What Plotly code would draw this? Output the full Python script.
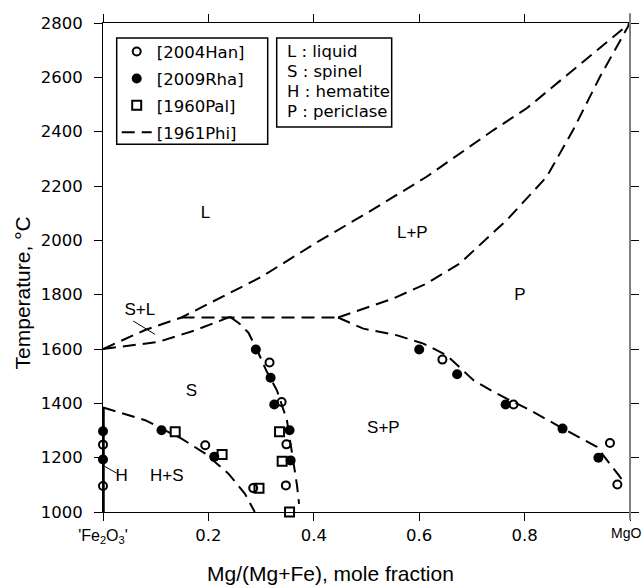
import plotly.graph_objects as go

# ---------------- data ----------------
# 1961Phi phase boundaries (dashed)
liqP_x = [0, 0.08, 0.149, 0.225, 0.301, 0.402, 0.51, 0.614, 0.677, 0.741, 0.804, 0.892, 1.0]
liqP_T = [1600, 1670, 1716, 1792, 1866, 1988, 2111, 2234, 2320, 2406, 2486, 2627, 2800]

solP_x = [0.446, 0.488, 0.551, 0.614, 0.677, 0.766, 0.842, 0.892, 0.943, 1.0]
solP_T = [1716, 1743, 1786, 1841, 1915, 2074, 2234, 2406, 2602, 2800]

eut_x = [0.149, 0.446]
eut_T = [1716, 1716]

liqS_x = [0, 0.105, 0.175, 0.241]
liqS_T = [1600, 1626, 1669, 1718]

solvS_x = [0.241, 0.258, 0.276, 0.292, 0.31, 0.330, 0.349, 0.361, 0.368, 0.372]
solvS_T = [1718, 1695, 1660, 1598, 1520, 1448, 1338, 1190, 1100, 1030]

SP_x = [0.446, 0.494, 0.557, 0.608, 0.652, 0.703, 0.747, 0.810, 0.873, 0.937, 0.981, 0.99]
SP_T = [1716, 1675, 1651, 1620, 1577, 1485, 1436, 1375, 1307, 1240, 1129, 1105]

hem_x = [0, 0.080, 0.149, 0.194, 0.238, 0.269, 0.288]
hem_T = [1385, 1338, 1270, 1215, 1141, 1068, 1000]

# hematite single-phase line (solid)
hemline_x = [0, 0]
hemline_T = [1000, 1385]

# label pointers (solid thin)
ptrSL_x = [0.0575, 0.0987]
ptrSL_T = [1703, 1654]
ptrH_x = [0.003, 0.026]
ptrH_T = [1168, 1143]

# experimental points
han_x = [0, 0, 0.194, 0.316, 0.339, 0.348, 0.347, 0.285, 0.644, 0.779, 0.962, 0.976]
han_T = [1248, 1096, 1246, 1550, 1405, 1249, 1098, 1088, 1561, 1396, 1254, 1101]

rha_x = [0, 0, 0.111, 0.211, 0.290, 0.318, 0.325, 0.354, 0.356, 0.600, 0.672, 0.764, 0.872, 0.940]
rha_T = [1297, 1193, 1301, 1203, 1598, 1494, 1396, 1301, 1190, 1598, 1507, 1396, 1307, 1200]

pal_x = [0.137, 0.226, 0.296, 0.335, 0.340, 0.354]
pal_T = [1295, 1212, 1087, 1295, 1187, 1000]

# region labels
lab_text = ["L", "L+P", "P", "S+L", "S", "S+P", "H+S", "H"]
lab_x = [0.1945, 0.587, 0.791, 0.070, 0.168, 0.532, 0.121, 0.0354]
lab_T = [2098, 2026, 1797, 1739, 1442, 1307, 1129, 1131]

x_ticks = [0, 0.2, 0.4, 0.6, 0.8, 1.0]
x_ticktext = ["<span style='font-family:Liberation Sans;font-size:16px'>'Fe<sub>2</sub>O<sub>3</sub>'</span>",
              "0.2", "0.4", "0.6", "0.8", ""]
end_label = "MgO"
y_ticks = [1000, 1200, 1400, 1600, 1800, 2000, 2200, 2400, 2600, 2800]

legend_lines = ["L : liquid", "S : spinel", "H : hematite", "P : periclase"]

# ---------------- figure ----------------
fig = go.Figure()
DASH = "13px,7px"
dash_line = dict(color="black", width=2, dash=DASH)

boundaries = [(liqP_x, liqP_T), (solP_x, solP_T), (eut_x, eut_T), (liqS_x, liqS_T),
              (solvS_x, solvS_T), (SP_x, SP_T), (hem_x, hem_T)]
for i, (bx, bt) in enumerate(boundaries):
    fig.add_trace(go.Scatter(x=bx, y=bt, mode="lines", line=dash_line,
                             name="[1961Phi]", showlegend=(i == 0), legendrank=4,
                             legendgroup="phi", hoverinfo="skip"))

fig.add_trace(go.Scatter(x=hemline_x, y=hemline_T, mode="lines",
                         line=dict(color="black", width=3.5), showlegend=False))
for px_, pt_ in [(ptrSL_x, ptrSL_T), (ptrH_x, ptrH_T)]:
    fig.add_trace(go.Scatter(x=px_, y=pt_, mode="lines",
                             line=dict(color="black", width=1), showlegend=False))

fig.add_trace(go.Scatter(x=han_x, y=han_T, mode="markers", name="[2004Han]",
                         legendrank=1, legendgroup="han", cliponaxis=False,
                         marker=dict(symbol="circle-open", size=8, color="black",
                                     line=dict(width=2, color="black"))))
fig.add_trace(go.Scatter(x=rha_x, y=rha_T, mode="markers", name="[2009Rha]",
                         legendrank=2, legendgroup="rha", cliponaxis=False,
                         marker=dict(symbol="circle", size=10, color="black")))
fig.add_trace(go.Scatter(x=pal_x, y=pal_T, mode="markers", name="[1960Pal]",
                         legendrank=3, legendgroup="pal", cliponaxis=False,
                         marker=dict(symbol="square-open", size=9, color="black",
                                     line=dict(width=2, color="black"))))

fig.add_trace(go.Scatter(x=lab_x, y=lab_T, mode="text", text=lab_text,
                         textfont=dict(family="Liberation Sans", size=17, color="black"),
                         showlegend=False, hoverinfo="skip"))

axis_common = dict(showline=True, linecolor="black", linewidth=1, mirror="ticks",
                   ticks="outside", ticklen=8, tickwidth=1, tickcolor="black",
                   showgrid=False, zeroline=False, automargin=False,
                   ticklabeloverflow="allow",
                   tickfont=dict(family="DejaVu Sans", size=16.5, color="black"))

fig.update_xaxes(range=[0, 1], tickvals=x_ticks, ticktext=x_ticktext, **axis_common)
fig.update_yaxes(range=[1000, 2800], tickvals=y_ticks, ticklabelstandoff=8, **axis_common)

fig.add_shape(type="line", xref="paper", yref="paper", x0=1, x1=1, y0=-0.016, y1=1.02,
              line=dict(color="#808080", width=2))

# end-member label at x = 1 (kept inside the page)
fig.add_annotation(xref="paper", yref="paper", x=1.0247, y=-0.0436, xanchor="right",
                   yanchor="middle", text=end_label, showarrow=False,
                   font=dict(family="Liberation Sans", size=14, color="black"))

# frame of the symbol legend
fig.add_shape(type="rect", xref="paper", yref="paper", x0=0.026, x1=0.3125,
              y0=0.752, y1=0.9693, line=dict(color="black", width=1.5), fillcolor="white",
              layer="above")

# second (text) legend box
fig.add_shape(type="rect", xref="paper", yref="paper", x0=0.3296, x1=0.5478,
              y0=0.7873, y1=0.9693, line=dict(color="black", width=1.5), fillcolor="white",
              layer="above")
leg_y = [0.9407, 0.9002, 0.8597, 0.8194]
for t, yy in zip(legend_lines, leg_y):
    fig.add_annotation(xref="paper", yref="paper", x=0.3454, y=yy, xanchor="left",
                       yanchor="middle", text=t, showarrow=False, align="left",
                       font=dict(family="DejaVu Sans", size=16.5, color="black"))

fig.add_annotation(xref="paper", yref="paper", x=0.4326, y=-0.1254, xanchor="center",
                   yanchor="middle", text="Mg/(Mg+Fe), mole fraction", showarrow=False,
                   font=dict(family="Liberation Sans", size=21, color="black"))
fig.add_annotation(xref="paper", yref="paper", x=-0.1537, y=0.447, xanchor="center",
                   yanchor="middle", text="Temperature, °C", textangle=-90, showarrow=False,
                   font=dict(family="Liberation Sans", size=21, color="black"))

fig.update_layout(
    width=643, height=586,
    margin=dict(l=103, r=13, t=23, b=74, autoexpand=False),
    paper_bgcolor="white", plot_bgcolor="white",
    showlegend=True,
    legend=dict(x=0.026, y=0.977, xanchor="left", yanchor="top",
                borderwidth=0, bgcolor="rgba(0,0,0,0)",
                font=dict(family="DejaVu Sans", size=16.5, color="black"),
                tracegroupgap=2.5, traceorder="grouped"),
)

fig.write_html("out.html", config={"displayModeBar": False},
               post_script="document.body.style.margin='0';document.body.style.overflow='hidden';")
